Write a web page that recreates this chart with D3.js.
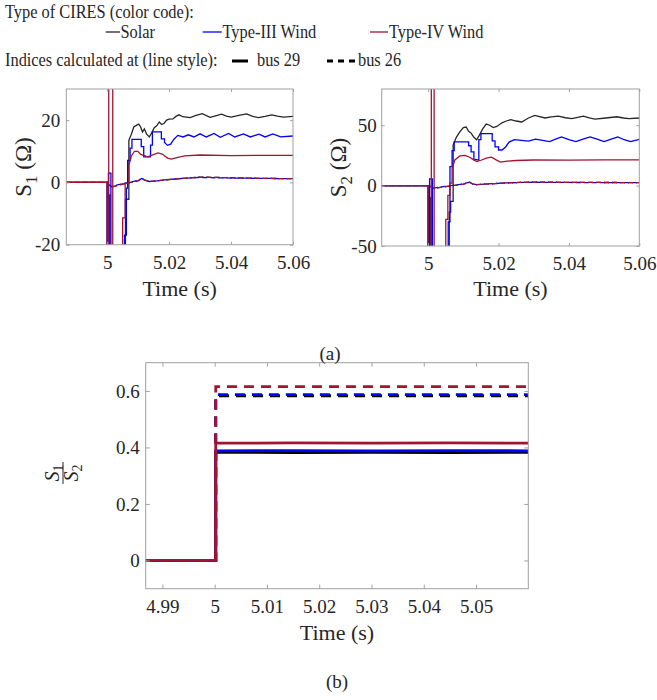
<!DOCTYPE html>
<html>
<head>
<meta charset="utf-8">
<script src="https://cdn.jsdelivr.net/npm/d3@7"></script>
<style>
  html, body { margin: 0; padding: 0; background: #fff; }
  svg { display: block; }
</style>
</head>
<body>
<script>
// ---------------- DATA ----------------
const timeDomain = [4.9868, 5.06];

// Panel (a) left: S1 (Ohm)
const s1Ticks_x = [5, 5.02, 5.04, 5.06];
const s1Ticks_y = [-20, 0, 20];
const solarS1_bus29 = [[4.9868,0],[5.0,0],[5.0,-100],[5.0005,-100],[5.0005,-4],[5.0009,-4],[5.0009,-100],[5.0059,-100],[5.0059,-5.4],[5.0070,-5.4],[5.0070,13.5],[5.0078,15.5],[5.0086,17.8],[5.0094,18.3],[5.0102,18.7],[5.0108,17.8],[5.0114,16.2],[5.0120,17.2],[5.0127,15.6],[5.0136,14.6],[5.0144,16.0],[5.0152,17.6],[5.0160,18.2],[5.0168,19.4],[5.0176,18.6],[5.0184,19.0],[5.0192,20.0],[5.0200,20.3],[5.0212,20.4],[5.0222,21.2],[5.0232,21.7],[5.0244,21.1],[5.0256,21.0],[5.0268,20.8],[5.0287,21.5],[5.0307,22.1],[5.0332,20.9],[5.0350,21.4],[5.0369,21.9],[5.0385,21.3],[5.0401,21.0],[5.0425,21.5],[5.0450,22.0],[5.0470,21.2],[5.0488,20.8],[5.0510,21.2],[5.0531,21.7],[5.0550,21.3],[5.0569,21.0],[5.0600,21.2]];
const typeIIIS1_bus29 = [[4.9868,0],[5.0,0],[5.0,-100],[5.0004,-100],[5.0004,3],[5.0012,3],[5.0012,-100],[5.0056,-100],[5.0056,-16.9],[5.0062,-16.9],[5.0062,-1.8],[5.0066,-1.8],[5.0066,7.1],[5.0074,7.1],[5.0074,11],[5.0080,11],[5.0080,13.8],[5.0110,13.8],[5.0110,11.5],[5.0118,11.5],[5.0118,8.2],[5.0140,8.2],[5.0140,12],[5.0146,12],[5.0146,16.2],[5.0175,16.2],[5.0175,14],[5.0185,14],[5.0185,12.8],[5.0195,11.9],[5.0205,12.3],[5.0215,13.8],[5.0228,15.1],[5.0245,14.6],[5.0262,15.3],[5.0280,14.6],[5.0300,15.6],[5.0320,14.6],[5.0345,15.7],[5.0365,14.5],[5.0392,15.7],[5.0412,14.6],[5.0440,15.6],[5.0462,14.6],[5.0490,15.5],[5.0510,14.6],[5.0535,15.6],[5.0560,14.6],[5.0600,14.9]];
const typeIVS1_bus29 = [[4.9868,0],[5.0,0],[5.0,-100],[5.0005,-100],[5.0005,100],[5.0018,100],[5.0018,-100],[5.0050,-100],[5.0050,-11.4],[5.0058,-11.4],[5.0058,-0.3],[5.0070,-0.3],[5.0070,5.5],[5.0078,8.4],[5.0088,10.0],[5.0099,10.0],[5.0108,9.0],[5.0120,8.6],[5.0131,8.2],[5.0145,8.8],[5.0164,9.5],[5.0178,9.1],[5.0195,7.8],[5.0207,7.5],[5.0225,8.0],[5.0250,8.5],[5.0300,8.8],[5.0400,8.6],[5.0500,8.7],[5.0600,8.7]];
const solarS1_bus26 = [[4.9868,0],[5.0,0],[5.0005,-0.8],[5.0015,-1.5],[5.0030,-1.0],[5.0050,-0.5],[5.0075,0],[5.0100,0.6],[5.0112,1.2],[5.0120,0.8],[5.0135,0.3],[5.0160,0.5],[5.0185,0.8],[5.0220,1.1],[5.0260,1.4],[5.0300,1.7],[5.0350,1.6],[5.0400,1.5],[5.0500,1.3],[5.0600,1.2]];
const typeIIIS1_bus26 = [[4.9868,0],[5.0,0],[5.0005,-0.7],[5.0015,-1.4],[5.0030,-0.9],[5.0050,-0.4],[5.0075,0.1],[5.0100,0.7],[5.0112,1.3],[5.0120,0.8],[5.0135,0.3],[5.0160,0.5],[5.0185,0.8],[5.0220,1.1],[5.0260,1.4],[5.0300,1.6],[5.0350,1.5],[5.0400,1.4],[5.0500,1.3],[5.0600,1.2]];
const typeIVS1_bus26 = [[4.9868,0],[5.0,0],[5.0005,-0.8],[5.0015,-1.5],[5.0030,-1.1],[5.0050,-0.6],[5.0075,0],[5.0100,0.5],[5.0112,1.1],[5.0120,0.8],[5.0135,0.3],[5.0160,0.5],[5.0185,0.8],[5.0220,1.1],[5.0260,1.4],[5.0300,1.7],[5.0350,1.6],[5.0400,1.5],[5.0500,1.3],[5.0600,1.2]];

// Panel (a) right: S2 (Ohm)
const s2Ticks_x = [5, 5.02, 5.04, 5.06];
const s2Ticks_y = [-50, 0, 50];
const solarS2_bus29 = [[4.9868,0],[5.0,0],[5.0,-150],[5.0006,-150],[5.0006,-10],[5.0010,-10],[5.0010,-150],[5.0060,-150],[5.0060,-22],[5.0064,-22],[5.0064,-13],[5.0071,-13],[5.0071,33.6],[5.0080,40],[5.0090,44.5],[5.0100,48],[5.0108,48.5],[5.0115,45],[5.0122,43.5],[5.0130,40],[5.0138,38],[5.0146,42],[5.0155,47],[5.0165,51],[5.0175,50],[5.0185,48],[5.0195,49],[5.0210,52],[5.0222,53.5],[5.0235,54.7],[5.0250,53.5],[5.0266,52.7],[5.0285,56],[5.0303,58.2],[5.0332,56],[5.0350,57],[5.0370,57.5],[5.0390,56.2],[5.0408,55.5],[5.0425,56.5],[5.0441,57.5],[5.0458,56],[5.0474,55],[5.0505,56],[5.0536,57],[5.0555,56],[5.0571,55.5],[5.0600,56]];
const typeIIIS2_bus29 = [[4.9868,0],[5.0,0],[5.0,-150],[5.0004,-150],[5.0004,5.5],[5.0012,5.5],[5.0012,-150],[5.0057,-150],[5.0057,-30],[5.0062,-30],[5.0062,15.8],[5.0068,15.8],[5.0068,29],[5.0074,29],[5.0074,36.3],[5.0115,36.3],[5.0115,33],[5.0122,33],[5.0122,28],[5.0130,28],[5.0130,22],[5.0140,21.3],[5.0144,21.3],[5.0144,38],[5.0150,38],[5.0150,43],[5.0182,43],[5.0182,37],[5.0190,37],[5.0190,32],[5.0200,32],[5.0200,29.5],[5.0210,29.5],[5.0220,32],[5.0230,36],[5.0245,38],[5.0265,37.5],[5.0285,36.8],[5.0305,38.5],[5.0325,37.5],[5.0345,36.5],[5.0362,38.5],[5.0379,40.4],[5.0400,38],[5.0420,36.5],[5.0440,38.5],[5.0460,40.4],[5.0480,38.5],[5.0500,36.5],[5.0520,38.5],[5.0539,40.4],[5.0557,38],[5.0575,36.5],[5.0600,38.3]];
const typeIVS2_bus29 = [[4.9868,0],[5.0,0],[5.0,-150],[5.0009,-150],[5.0009,150],[5.0017,150],[5.0017,-150],[5.0050,-150],[5.0050,-28],[5.0056,-28],[5.0056,-8],[5.0062,-8],[5.0062,2],[5.0068,2],[5.0068,14],[5.0076,21.3],[5.0090,24.6],[5.0105,25],[5.0118,23.5],[5.0128,21.5],[5.0138,20],[5.0150,21],[5.0165,22.7],[5.0180,23.5],[5.0192,21.5],[5.0205,19.5],[5.0225,20.3],[5.0250,20.8],[5.0300,21.2],[5.0400,21.1],[5.0500,21.3],[5.0600,21.3]];
const solarS2_bus26 = [[4.9868,0],[5.0,0],[5.0008,-1],[5.0016,-2.2],[5.0030,-1.6],[5.0050,-0.8],[5.0070,0],[5.0100,1.3],[5.0118,2.8],[5.0126,1.5],[5.0138,0.8],[5.0160,1.2],[5.0190,1.7],[5.0220,2.2],[5.0260,2.6],[5.0300,2.9],[5.0350,2.8],[5.0400,2.7],[5.0500,2.6],[5.0600,2.5]];
const typeIIIS2_bus26 = [[4.9868,0],[5.0,0],[5.0008,-0.8],[5.0016,-2.0],[5.0030,-1.4],[5.0050,-0.6],[5.0070,0.2],[5.0100,1.4],[5.0118,2.9],[5.0126,1.5],[5.0138,0.8],[5.0160,1.2],[5.0190,1.7],[5.0220,2.2],[5.0260,2.6],[5.0300,2.8],[5.0350,2.7],[5.0400,2.6],[5.0500,2.5],[5.0600,2.5]];
const typeIVS2_bus26 = [[4.9868,0],[5.0,0],[5.0008,-1],[5.0016,-2.3],[5.0030,-1.7],[5.0050,-0.9],[5.0070,0],[5.0100,1.2],[5.0118,2.7],[5.0126,1.5],[5.0138,0.8],[5.0160,1.2],[5.0190,1.7],[5.0220,2.2],[5.0260,2.6],[5.0300,2.9],[5.0350,2.8],[5.0400,2.7],[5.0500,2.6],[5.0600,2.5]];

// Panel (b): S1/S2
const ratioTicks_x = [4.99, 5, 5.01, 5.02, 5.03, 5.04, 5.05];
const ratioTicks_y = [0, 0.2, 0.4, 0.6];
const solarRatio_bus29   = [[4.9868,0],[5.0002,0],[5.0002,0.383],[5.015,0.382],[5.03,0.383],[5.045,0.382],[5.06,0.383]];
const typeIIIRatio_bus29 = [[4.9868,0],[5.0002,0],[5.0002,0.388],[5.015,0.389],[5.03,0.388],[5.045,0.389],[5.06,0.388]];
const typeIVRatio_bus29  = [[4.9868,0],[5.0002,0],[5.0002,0.415],[5.015,0.416],[5.03,0.415],[5.045,0.416],[5.06,0.415]];
const solarRatio_bus26   = [[4.9868,0],[5.0002,0],[5.0002,0.583],[5.06,0.583]];
const typeIIIRatio_bus26 = [[4.9868,0],[5.0002,0],[5.0002,0.587],[5.06,0.587]];
const typeIVRatio_bus26  = [[4.9868,0],[5.0002,0],[5.0002,0.615],[5.06,0.615]];

// ---------------- STYLE ----------------
const FONT = "'Liberation Serif','Times New Roman',serif";
const TXT = "#262626";
const AXC = "#a0a0a0";
const C_SOLAR = "#262626", C_T3 = "#0000ff", C_T4 = "#a2142f";

const svg = d3.select("body").append("svg").attr("width", 657).attr("height", 700)
  .style("background", "#fff");

function makePanel(p) {
  const x = d3.scaleLinear().domain(timeDomain).range([p.left, p.right]);
  const y = d3.scaleLinear().domain(p.yDomain).range([p.bottom, p.top]);
  const clipId = "clip-" + p.id;
  svg.append("clipPath").attr("id", clipId).append("rect")
    .attr("x", p.left).attr("y", p.top).attr("width", p.right - p.left).attr("height", p.bottom - p.top);
  const g = svg.append("g");

  const line = d3.line().x(d => x(d[0])).y(d => y(d[1]));
  const lg = g.append("g").attr("clip-path", `url(#${clipId})`);
  p.series.forEach(s => {
    lg.append("path").attr("d", line(s.data)).attr("fill", "none")
      .attr("stroke", s.color).attr("stroke-width", s.width)
      .attr("stroke-linejoin", "miter")
      .attr("stroke-dasharray", s.dash || null)
      .attr("stroke-dashoffset", s.offset || 0);
  });

  g.append("rect").attr("x", p.left).attr("y", p.top)
    .attr("width", p.right - p.left).attr("height", p.bottom - p.top)
    .attr("fill", "none").attr("stroke", AXC).attr("stroke-width", 1);

  const fmt = d => String(d);
  const axes = [
    g.append("g").attr("transform", `translate(0,${p.bottom})`)
      .call(d3.axisBottom(x).tickValues(p.xTicks).tickFormat(fmt).tickSizeInner(-p.tick).tickSizeOuter(0).tickPadding(11)),
    g.append("g").attr("transform", `translate(0,${p.top})`)
      .call(d3.axisTop(x).tickValues(p.xTicks).tickFormat("").tickSizeInner(-p.tick).tickSizeOuter(0)),
    g.append("g").attr("transform", `translate(${p.left},0)`)
      .call(d3.axisLeft(y).tickValues(p.yTicks).tickFormat(fmt).tickSizeInner(-p.tick).tickSizeOuter(0).tickPadding(p.yPad)),
    g.append("g").attr("transform", `translate(${p.right},0)`)
      .call(d3.axisRight(y).tickValues(p.yTicks).tickFormat("").tickSizeInner(-p.tick).tickSizeOuter(0))
  ];
  axes.forEach(a => {
    a.attr("font-family", FONT);
    a.select(".domain").remove();
    a.selectAll("line").attr("stroke", AXC);
    a.selectAll("text").attr("font-family", FONT).attr("font-size", 19).attr("fill", TXT);
  });

  svg.append("text").attr("x", (p.left + p.right) / 2).attr("y", p.xLabelY)
    .attr("text-anchor", "middle").attr("font-family", FONT).attr("font-size", 22).attr("fill", TXT)
    .text("Time (s)");
  return { x, y };
}

const dashTop = "5,3";
makePanel({
  id: "s1", left: 66.3, right: 293, top: 89, bottom: 244.7, yDomain: [-20, 30],
  xTicks: s1Ticks_x, yTicks: s1Ticks_y, tick: 3, yPad: 6, xLabelY: 296,
  series: [
    { data: solarS1_bus26, color: C_SOLAR, width: 1.3, dash: dashTop },
    { data: typeIIIS1_bus26, color: C_T3, width: 1.3, dash: dashTop, offset: 4 },
    { data: typeIVS1_bus26, color: C_T4, width: 1.3, dash: dashTop },
    { data: solarS1_bus29, color: C_SOLAR, width: 1.3 },
    { data: typeIIIS1_bus29, color: C_T3, width: 1.3 },
    { data: typeIVS1_bus29, color: C_T4, width: 1.3 }
  ]
});
makePanel({
  id: "s2", left: 381.7, right: 639.3, top: 89, bottom: 246, yDomain: [-50, 80],
  xTicks: s2Ticks_x, yTicks: s2Ticks_y, tick: 3, yPad: 5, xLabelY: 296,
  series: [
    { data: solarS2_bus26, color: C_SOLAR, width: 1.3, dash: dashTop },
    { data: typeIIIS2_bus26, color: C_T3, width: 1.3, dash: dashTop, offset: 4 },
    { data: typeIVS2_bus26, color: C_T4, width: 1.3, dash: dashTop },
    { data: solarS2_bus29, color: C_SOLAR, width: 1.3 },
    { data: typeIIIS2_bus29, color: C_T3, width: 1.3 },
    { data: typeIVS2_bus29, color: C_T4, width: 1.3 }
  ]
});
const dashBot = "10,7";
makePanel({
  id: "ratio", left: 145.7, right: 528.3, top: 362.7, bottom: 588.7, yDomain: [-0.1, 0.7],
  xTicks: ratioTicks_x, yTicks: ratioTicks_y, tick: 4, yPad: 6, xLabelY: 640,
  series: [
    { data: solarRatio_bus29, color: "#000", width: 2.8 },
    { data: typeIIIRatio_bus29, color: C_T3, width: 2.8 },
    { data: solarRatio_bus26, color: "#000", width: 2.8, dash: dashBot },
    { data: typeIIIRatio_bus26, color: C_T3, width: 2.8, dash: dashBot },
    { data: typeIVRatio_bus29, color: C_T4, width: 2.8 },
    { data: typeIVRatio_bus26, color: C_T4, width: 2.8, dash: dashBot }
  ]
});

// Y-axis labels (rotated)
function yLabel(xBase, yc, sub) {
  const t = svg.append("text").attr("transform", `translate(${xBase},${yc}) rotate(-90)`)
    .attr("text-anchor", "middle").attr("font-family", FONT).attr("font-size", 23).attr("fill", TXT);
  t.append("tspan").text("S");
  t.append("tspan").attr("dy", 6).attr("font-size", 17).text(sub);
  t.append("tspan").attr("dy", -6).text(" (Ω)");
}
yLabel(31, 167, "1");
yLabel(346, 167.5, "2");

// Fraction label S1/S2
(function () {
  const g = svg.append("g").attr("transform", "translate(63,473) rotate(-90)");
  const f = g.append("text").attr("x", 0).attr("y", -4).attr("text-anchor", "middle")
    .attr("font-family", FONT).attr("font-size", 20).attr("fill", TXT);
  f.append("tspan").attr("font-style", "italic").text("S");
  f.append("tspan").attr("dy", 4).attr("font-size", 14).text("1");
  g.append("line").attr("x1", -11).attr("x2", 11).attr("y1", 0).attr("y2", 0)
    .attr("stroke", TXT).attr("stroke-width", 1);
  const d = g.append("text").attr("x", 0).attr("y", 15).attr("text-anchor", "middle")
    .attr("font-family", FONT).attr("font-size", 20).attr("fill", TXT);
  d.append("tspan").attr("font-style", "italic").text("S");
  d.append("tspan").attr("dy", 4).attr("font-size", 14).text("2");
})();

// Panel captions
svg.append("text").attr("x", 330).attr("y", 360).attr("text-anchor", "middle")
  .attr("font-family", FONT).attr("font-size", 19).attr("fill", TXT).text("(a)");
svg.append("text").attr("x", 337).attr("y", 688).attr("text-anchor", "middle")
  .attr("font-family", FONT).attr("font-size", 19).attr("fill", TXT).text("(b)");

// Legend
const legendTypes = ["Solar", "Type-III Wind", "Type-IV Wind"];
const legendColors = [C_SOLAR, C_T3, C_T4];
const legendBuses = ["bus 29", "bus 26"];
function legText(x, y, s) {
  svg.append("text").attr("transform", `translate(${x},${y}) scale(0.91,1)`)
    .attr("font-family", FONT).attr("font-size", 18).attr("fill", TXT).text(s);
}
legText(5, 18, "Type of CIRES (color code):");
const legX = [[105.7, 120, 120.5], [202.7, 221.7, 222.5], [370, 388, 389]];
legendTypes.forEach((name, i) => {
  svg.append("line").attr("x1", legX[i][0]).attr("x2", legX[i][1]).attr("y1", 32).attr("y2", 32)
    .attr("stroke", legendColors[i]).attr("stroke-width", 1.3);
  legText(legX[i][2], 38, name);
});
legText(5, 66, "Indices calculated at (line style):");
svg.append("line").attr("x1", 232).attr("x2", 248).attr("y1", 61).attr("y2", 61)
  .attr("stroke", "#000").attr("stroke-width", 3);
legText(257, 66, legendBuses[0]);
svg.append("line").attr("x1", 327).attr("x2", 355).attr("y1", 61).attr("y2", 61)
  .attr("stroke", "#000").attr("stroke-width", 3).attr("stroke-dasharray", "6,5");
legText(358, 66, legendBuses[1]);
</script>
</body>
</html>
